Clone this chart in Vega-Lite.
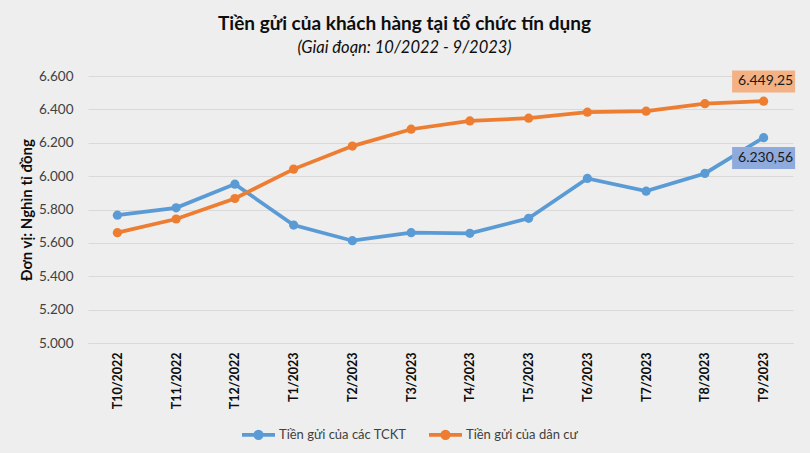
{
  "$schema": "https://vega.github.io/schema/vega-lite/v6.json",
  "width": 705,
  "height": 267,
  "autosize": "none",
  "padding": {"left": 88, "top": 76, "right": 17, "bottom": 110},
  "background": "#eeeeee",
  "title": {
    "text": "Tiền gửi của khách hàng tại tổ chức tín dụng",
    "subtitle": "(Giai đoạn: 10/2022 - 9/2023)",
    "anchor": "middle",
    "dx": -36,
    "offset": 13,
    "font": "Lato",
    "fontSize": 19,
    "fontWeight": "bold",
    "color": "#0d0d0d",
    "subtitleFont": "Lato",
    "subtitleFontSize": 16.5,
    "subtitleFontStyle": "italic",
    "subtitleColor": "#0d0d0d",
    "subtitlePadding": 6
  },
  "data": {
    "values": [
      {"month": "T10/2022", "series": "Tiền gửi của các TCKT", "value": 5766},
      {"month": "T11/2022", "series": "Tiền gửi của các TCKT", "value": 5810},
      {"month": "T12/2022", "series": "Tiền gửi của các TCKT", "value": 5952},
      {"month": "T1/2023", "series": "Tiền gửi của các TCKT", "value": 5707},
      {"month": "T2/2023", "series": "Tiền gửi của các TCKT", "value": 5613},
      {"month": "T3/2023", "series": "Tiền gửi của các TCKT", "value": 5661},
      {"month": "T4/2023", "series": "Tiền gửi của các TCKT", "value": 5657},
      {"month": "T5/2023", "series": "Tiền gửi của các TCKT", "value": 5747},
      {"month": "T6/2023", "series": "Tiền gửi của các TCKT", "value": 5986},
      {"month": "T7/2023", "series": "Tiền gửi của các TCKT", "value": 5910},
      {"month": "T8/2023", "series": "Tiền gửi của các TCKT", "value": 6016},
      {"month": "T9/2023", "series": "Tiền gửi của các TCKT", "value": 6230.56},
      {"month": "T10/2022", "series": "Tiền gửi của dân cư", "value": 5661},
      {"month": "T11/2022", "series": "Tiền gửi của dân cư", "value": 5743},
      {"month": "T12/2022", "series": "Tiền gửi của dân cư", "value": 5866},
      {"month": "T1/2023", "series": "Tiền gửi của dân cư", "value": 6042},
      {"month": "T2/2023", "series": "Tiền gửi của dân cư", "value": 6180},
      {"month": "T3/2023", "series": "Tiền gửi của dân cư", "value": 6281},
      {"month": "T4/2023", "series": "Tiền gửi của dân cư", "value": 6331},
      {"month": "T5/2023", "series": "Tiền gửi của dân cư", "value": 6347},
      {"month": "T6/2023", "series": "Tiền gửi của dân cư", "value": 6383},
      {"month": "T7/2023", "series": "Tiền gửi của dân cư", "value": 6389},
      {"month": "T8/2023", "series": "Tiền gửi của dân cư", "value": 6434},
      {"month": "T9/2023", "series": "Tiền gửi của dân cư", "value": 6449.25}
    ]
  },
  "encoding": {
    "x": {
      "field": "month",
      "type": "ordinal",
      "sort": null,
      "scale": {"type": "point", "padding": 0.5},
      "axis": {
        "title": null,
        "labelAngle": -90,
        "labelAlign": "right",
        "labelBaseline": "middle",
        "labelFont": "Lato",
        "labelFontSize": 12.5,
        "labelFontWeight": "bold",
        "labelColor": "#0d0d0d",
        "labelPadding": 9,
        "ticks": false,
        "domain": true,
        "domainColor": "#d9d9d9",
        "domainWidth": 1,
        "grid": false
      }
    },
    "y": {
      "field": "value",
      "type": "quantitative",
      "scale": {"domain": [5000, 6600], "nice": false, "zero": false},
      "axis": {
        "title": "Đơn vị: Nghìn tỉ đồng",
        "titleFont": "Lato",
        "titleFontSize": 15,
        "titleFontWeight": "bold",
        "titleColor": "#0d0d0d",
        "titlePadding": 4,
        "values": [5000, 5200, 5400, 5600, 5800, 6000, 6200, 6400, 6600],
        "format": ",.0f",
        "labelFont": "Lato",
        "labelFontSize": 13.5,
        "labelColor": "#404040",
        "labelPadding": 15,
        "ticks": false,
        "domain": false,
        "grid": true,
        "gridColor": "#d9d9d9",
        "gridWidth": 1
      }
    }
  },
  "layer": [
    {
      "mark": {"type": "line", "strokeWidth": 3.75, "point": {"filled": true, "size": 85, "opacity": 1}},
      "encoding": {
        "color": {
          "field": "series",
          "type": "nominal",
          "scale": {"domain": ["Tiền gửi của các TCKT", "Tiền gửi của dân cư"], "range": ["#5b9bd5", "#ed7d31"]},
          "legend": {
            "title": null,
            "orient": "none",
            "direction": "horizontal",
            "legendX": 152,
            "legendY": 340,
            "labelFont": "Lato",
            "labelFontSize": 13,
            "labelColor": "#404040",
            "labelOffset": 2,
            "columnPadding": 14,
            "symbolType": "M-1,0H1M-0.2,0A0.2,0.2 0 1,0 0.2,0A0.2,0.2 0 1,0 -0.2,0",
            "symbolSize": 1089,
            "symbolStrokeWidth": 3.75
          }
        }
      }
    },
    {
      "transform": [{"filter": "datum.month === 'T9/2023' && datum.series === 'Tiền gửi của dân cư'"}],
      "mark": {"type": "point", "filled": true, "opacity": 1, "color": "#f4b183", "size": 3969, "shape": "M-1,-0.975H1V-0.276H-1Z"}
    },
    {
      "transform": [{"filter": "datum.month === 'T9/2023' && datum.series === 'Tiền gửi của các TCKT'"}],
      "mark": {"type": "point", "filled": true, "opacity": 1, "color": "#8faadc", "size": 3969, "shape": "M-1,0.295H1V0.994H-1Z"}
    },
    {
      "transform": [{"filter": "datum.month === 'T9/2023' && datum.series === 'Tiền gửi của dân cư'"}],
      "mark": {"type": "text", "dy": -20, "dx": 2, "font": "Lato", "fontSize": 14, "color": "#1a1a1a", "align": "center", "baseline": "middle"},
      "encoding": {"text": {"field": "value", "type": "quantitative", "format": ",.2f"}}
    },
    {
      "transform": [{"filter": "datum.month === 'T9/2023' && datum.series === 'Tiền gửi của các TCKT'"}],
      "mark": {"type": "text", "dy": 20, "dx": 2, "font": "Lato", "fontSize": 14, "color": "#1a1a1a", "align": "center", "baseline": "middle"},
      "encoding": {"text": {"field": "value", "type": "quantitative", "format": ",.2f"}}
    }
  ],
  "config": {
    "view": {"stroke": null},
    "locale": {"number": {"decimal": ",", "thousands": ".", "grouping": [3], "currency": ["", ""]}}
  }
}
